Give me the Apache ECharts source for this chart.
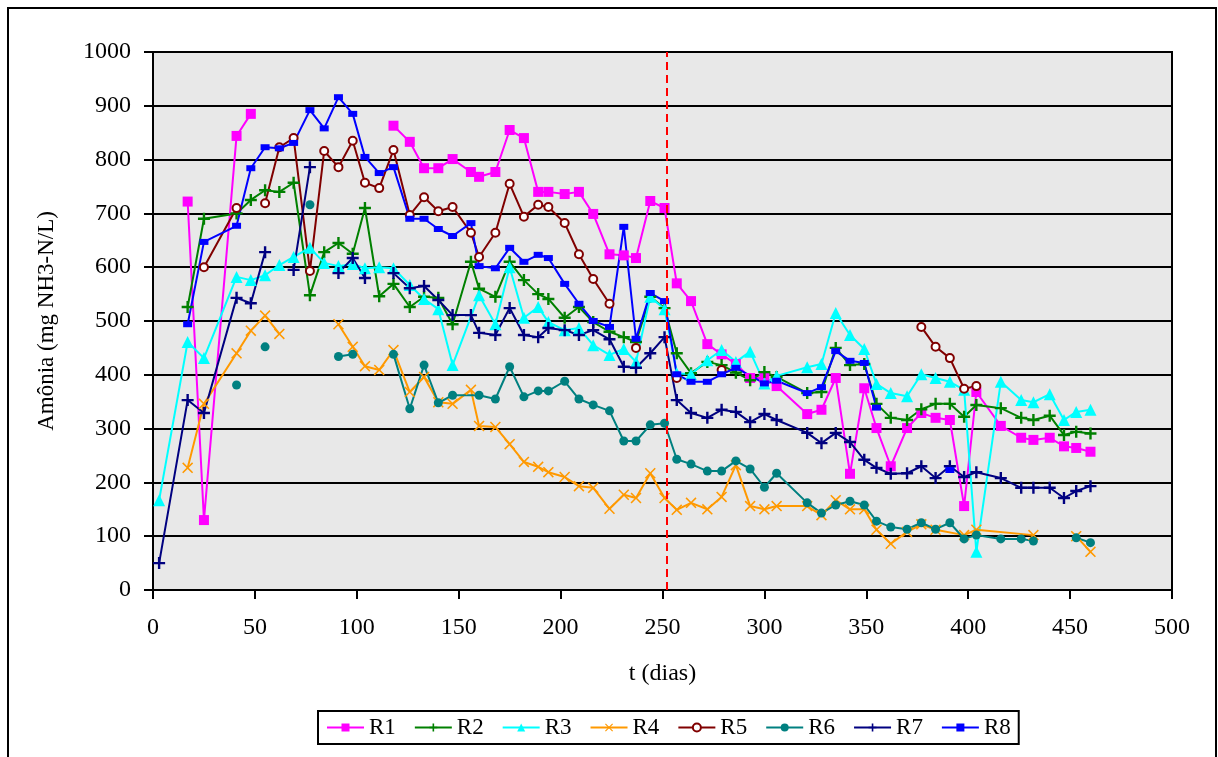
<!DOCTYPE html>
<html>
<head>
<meta charset="utf-8">
<script src="https://cdn.jsdelivr.net/npm/echarts@6/dist/echarts.min.js"></script>
<style>
  html, body { margin: 0; padding: 0; background: #fff; }
  #chart { width: 1218px; height: 757px; }
</style>
</head>
<body>
<div id="chart"></div>
<script>
// Sampling days (t, dias)
const days = [3,17,25,41,48,55,62,69,77,84,91,98,104,111,118,126,133,140,147,156,
  160,168,175,182,189,194,202,209,216,224,231,237,244,251,257,264,272,279,286,293,
  300,306,321,328,335,342,349,355,362,370,377,384,391,398,404,416,426,432,440,447,
  453,460];

// _ : not sampled (line continues); B : not sampled (line interrupted)
const _ = null;
const B = '-';

// Ammonia (mg NH3-N/L) per reactor, aligned with days
const R1 = [_,722,130,844,885,B,_,_,_,_,_,_,_,_,863,833,784,784,801,777,
  768,777,855,840,740,740,736,740,699,624,622,617,723,710,570,537,457,438,420,394,
  394,379,327,335,394,216,375,301,230,301,329,320,316,156,368,305,283,279,283,267,
  264,257];
const R2 = [_,526,690,700,725,743,740,757,548,628,645,625,710,546,569,526,545,543,494,610,
  560,545,610,576,550,541,506,526,498,480,470,461,545,524,440,403,424,418,404,390,
  405,396,366,368,450,418,420,346,320,316,336,346,346,322,344,338,320,316,324,288,
  294,291];
const R3 = [167,461,431,582,576,585,604,619,636,608,602,606,598,600,598,567,541,522,418,_,
  548,494,600,506,526,498,483,487,455,437,448,424,545,522,403,401,427,446,424,443,
  384,398,414,420,515,474,448,383,366,360,401,394,387,372,71,387,353,349,364,316,
  331,335];
const R4 = [_,227,346,440,482,510,476,B,_,_,494,452,416,409,446,368,396,349,346,372,
  305,303,271,238,229,219,210,193,190,151,177,171,217,171,149,162,150,173,232,156,
  150,156,156,139,167,150,150,112,86,108,122,112,_,102,112,_,_,102,B,_,
  100,71];
const R5 = [_,_,600,710,B,719,823,840,593,816,786,835,757,747,818,697,730,704,712,664,
  619,664,755,694,716,712,682,624,578,532,B,450,B,_,394,B,_,409,B,_,
  _,_,_,_,_,_,_,_,_,_,489,452,431,374,379,_,_,_,_,_,
  _,_];
const R6 = [_,_,_,381,B,452,B,_,716,B,434,438,B,_,438,337,418,348,362,_,
  362,355,415,359,370,370,388,355,344,333,277,277,307,310,243,234,221,221,240,225,
  191,217,162,143,158,165,158,128,117,113,125,113,125,95,102,95,95,91,B,_,
  97,88];
const R7 = [50,353,329,543,533,628,B,595,786,B,589,617,580,B,589,561,565,539,511,511,
  478,474,524,474,470,487,483,474,483,466,415,413,440,470,353,329,320,335,331,312,
  327,316,292,273,292,275,242,227,216,217,230,208,230,210,219,208,190,190,190,171,
  184,193];
const R8 = [_,494,647,677,784,823,821,831,892,858,916,885,805,775,786,690,690,671,658,682,
  602,598,636,610,623,617,569,532,500,489,675,467,552,537,401,387,387,401,413,_,
  384,389,366,377,444,426,422,339,B,_,_,_,223,_,_,_,_,_,_,_,
  _,_];

// Day of the process change (vertical dashed line)
const changeDay = 252;

const names = ['R1','R2','R3','R4','R5','R6','R7','R8'];
const values = [R1,R2,R3,R4,R5,R6,R7,R8];
const colors = ['#ff00ff','#008000','#00ffff','#ff9900','#800000','#008080','#000080','#0000ff'];

const PLUS = 'path://M4,0H6V4H10V6H6V10H4V6H0V4H4Z';
const CROSS = 'path://M0,1L1,0L5,4L9,0L10,1L6,5L10,9L9,10L5,6L1,10L0,9L4,5Z';
const symbols = ['rect', PLUS, 'triangle', CROSS, 'emptyCircle', 'circle', PLUS, 'rect'];
const sizes = [10, 12, 12, 11, 8, 9, 12, [9,6]];

function toPairs(arr) {
  const out = [];
  arr.forEach((v, i) => { if (v !== null) out.push([days[i], v]); });
  return out;
}

const FONT = 'Liberation Serif';

const series = names.map((n, k) => {
  const s = {
    name: n,
    type: 'line',
    data: toPairs(values[k]),
    symbol: symbols[k],
    symbolSize: sizes[k],
    showSymbol: true,
    connectNulls: false,
    color: colors[k],
    lineStyle: { color: colors[k], width: 2 },
    itemStyle: { color: colors[k], borderColor: colors[k], borderWidth: k === 4 ? 2 : 0 },
    emphasis: { disabled: true },
    animation: false
  };
  if (k === 0) {
    s.markLine = {
      silent: true,
      symbol: 'none',
      label: { show: false },
      lineStyle: { color: '#ff0000', type: [8, 5], width: 2 },
      data: [[{ coord: [changeDay, 0] }, { coord: [changeDay, 1000] }]]
    };
  }
  return s;
});

const chart = echarts.init(document.getElementById('chart'), null, { renderer: 'canvas' });
chart.setOption({
  animation: false,
  backgroundColor: '#ffffff',
  textStyle: { fontFamily: FONT, color: '#000' },
  graphic: [{
    type: 'rect',
    shape: { x: 8, y: 8, width: 1208, height: 800 },
    style: { fill: 'none', stroke: '#000', lineWidth: 2 },
    silent: true, z: -1
  }],
  grid: {
    left: 153, top: 52, right: 46, bottom: 167,
    show: true, backgroundColor: '#e8e8e8', borderColor: '#000', borderWidth: 2
  },
  legend: {
    data: names,
    left: 318, top: 711,
    padding: [5, 8],
    itemWidth: 37, itemHeight: 10, itemGap: 18,
    borderColor: '#000', borderWidth: 2,
    textStyle: { fontFamily: FONT, fontSize: 23, color: '#000' }
  },
  xAxis: {
    type: 'value', min: 0, max: 500, interval: 50,
    name: 't (dias)', nameLocation: 'middle', nameGap: 72,
    nameTextStyle: { fontFamily: FONT, fontSize: 24, color: '#000' },
    axisLine: { show: true, lineStyle: { color: '#000', width: 2 } },
    axisTick: { show: true, length: 9, lineStyle: { color: '#000', width: 2 } },
    axisLabel: { fontFamily: FONT, fontSize: 24, color: '#000', margin: 26 },
    splitLine: { show: false }
  },
  yAxis: {
    type: 'value', min: 0, max: 1000, interval: 100,
    name: 'Amônia (mg NH3-N/L)', nameLocation: 'middle', nameGap: 95, nameRotate: 90,
    nameTextStyle: { fontFamily: FONT, fontSize: 23, color: '#000' },
    axisLine: { show: true, lineStyle: { color: '#000', width: 2 } },
    axisTick: { show: true, length: 9, lineStyle: { color: '#000', width: 2 } },
    axisLabel: { fontFamily: FONT, fontSize: 24, color: '#000', margin: 22,
                 formatter: v => String(v) },
    splitLine: { show: true, lineStyle: { color: '#000', width: 2 } }
  },
  series: series
});
</script>
</body>
</html>
